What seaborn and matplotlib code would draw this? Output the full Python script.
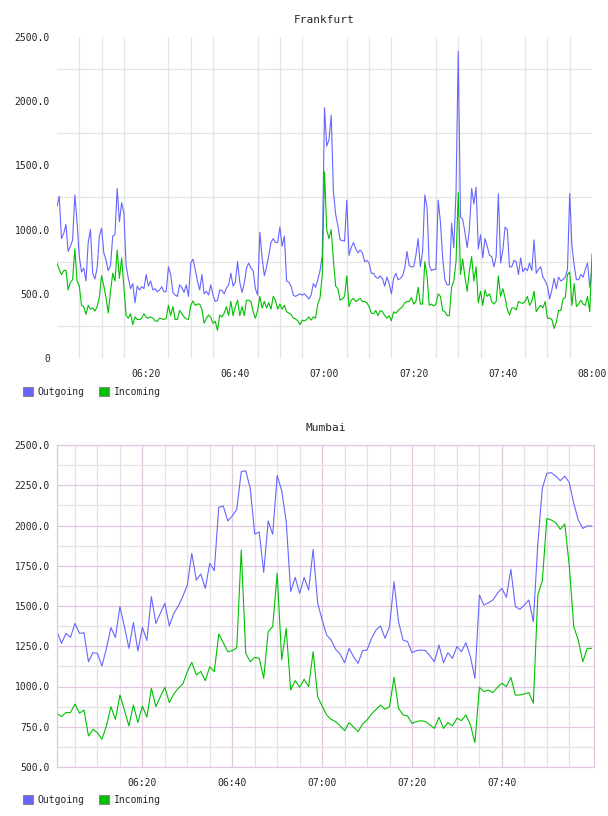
import pandas as pd
import matplotlib
matplotlib.use("Agg")
import matplotlib.pyplot as plt
import matplotlib.dates as mdates
from matplotlib.patches import Patch
from matplotlib.ticker import FixedLocator, FuncFormatter
import seaborn as sns

# Frankfurt: one sample every 30 s, 06:00 -> 08:00
fra_out = [
    1180, 1260, 930, 970, 1040, 830, 870, 920, 1270, 1060,
    790, 670, 700, 600, 900, 1000, 660, 615, 700, 950,
    1010, 820, 760, 680, 720, 950, 960, 1320, 1060, 1210,
    1130, 720, 620, 540, 580, 430, 560, 530, 555, 540,
    650, 560, 600, 530, 540, 515, 530, 555, 515, 520,
    710, 650, 510, 490, 480, 570, 550, 510, 570, 480,
    740, 770, 690, 600, 530, 650, 500, 520, 490, 570,
    490, 440, 450, 530, 525, 500, 545, 570, 660, 560,
    590, 750, 590, 510, 580, 700, 740, 700, 680, 540,
    490, 980, 780, 640, 710, 800, 900, 930, 900, 900,
    1020, 870, 950, 600, 590, 560, 490, 480, 490, 500,
    490, 500, 480, 460, 490, 580, 550, 610, 680, 800,
    1950, 1650, 1700, 1890, 1300, 1120, 1030, 920, 915, 910,
    1230, 800, 860, 900, 850, 820, 840, 820, 750, 760,
    740, 660, 660, 630, 620, 640, 620, 560, 630, 580,
    500, 620, 660, 610, 620, 640, 700, 830, 720, 710,
    710, 800, 930, 710, 830, 1270, 1170, 720, 680, 690,
    690, 1230, 1060, 780, 610, 570, 570, 1050, 860, 1290,
    2390, 1100, 1080, 980, 860, 1000, 1320, 1200, 1330, 850,
    960, 780, 930, 870, 800, 790, 710, 790, 1280, 740,
    840, 1020, 1000, 710, 710, 760, 750, 650, 780, 670,
    700, 680, 740, 680, 920, 660, 690, 710, 630, 600,
    560, 460, 530, 620, 540, 630, 600, 610, 630, 690,
    1280, 870, 720, 610, 610, 650, 630, 690, 740, 550, 700,
]
fra_in = [
    740, 690, 650, 680, 685, 530, 590, 610, 850, 600,
    560, 410, 400, 340, 410, 380, 390, 365, 400, 470,
    640, 560, 470, 350, 520, 660, 600, 840, 620, 780,
    560, 330, 310, 345, 260, 320, 300, 300, 310, 345,
    315, 310, 320, 310, 290, 285, 310, 305, 300, 310,
    410, 330, 400, 300, 300, 370, 345, 320, 305, 300,
    410, 445, 410, 420, 420, 380, 270, 310, 335, 315,
    270, 285, 215, 335, 320, 350, 400, 330, 440, 330,
    400, 450, 330, 400, 330, 450, 450, 440, 360, 310,
    370, 480, 390, 440, 390, 430, 380, 480, 450, 380,
    420, 380, 410, 360, 350, 340, 310, 305, 290, 260,
    295, 290, 300, 320, 295, 320, 310, 420, 470, 650,
    1450, 1000, 930, 1000, 760, 560, 540, 450, 460, 480,
    640, 400, 450, 465, 440, 450, 465, 440, 440, 430,
    400, 350, 345, 370, 330, 370, 360, 330, 310, 330,
    290, 360, 348, 370, 385, 400, 430, 440, 440, 470,
    420, 440, 550, 420, 420, 750, 640, 410, 420, 405,
    420, 500, 480, 370, 360, 330, 330, 550, 600, 750,
    1290, 650, 770, 630, 520, 680, 790, 600, 710, 430,
    520, 410, 530, 480, 500, 440, 420, 440, 640, 480,
    540, 470, 380, 335, 390, 390, 374, 440, 430, 425,
    440, 480, 410, 440, 520, 360, 390, 410, 390, 440,
    310, 310, 300, 230, 280, 370, 370, 460, 470, 650,
    670, 410, 580, 400, 420, 450, 420, 410, 480, 360, 810,
]

# Mumbai: one sample per minute, 06:01 -> 08:00
mum_out = [
    1341, 1268, 1330, 1305, 1392, 1330, 1334, 1154, 1210, 1206,
    1127, 1237, 1366, 1305, 1496, 1372, 1237, 1397, 1221, 1368,
    1285, 1558, 1392, 1455, 1517, 1376, 1455, 1500, 1560, 1630,
    1827, 1661, 1699, 1610, 1765, 1719, 2113, 2121, 2028, 2059,
    2100, 2334, 2340, 2231, 1947, 1959, 1709, 2028, 1945, 2311,
    2216, 2028, 1589, 1678, 1579, 1678, 1599, 1852, 1520, 1413,
    1320, 1289, 1231, 1202, 1148, 1237, 1185, 1144, 1223, 1227,
    1299, 1351, 1376, 1299, 1372, 1651, 1403, 1289, 1279, 1210,
    1223, 1227, 1223, 1190, 1154, 1258, 1148, 1210, 1175, 1248,
    1216, 1272, 1185, 1051, 1568, 1506, 1520, 1537, 1579, 1610,
    1554, 1728, 1496, 1479, 1506, 1537, 1403, 1889, 2231, 2324,
    2328, 2307, 2278, 2307, 2266, 2137, 2034, 1982, 1997, 1997,
]
mum_in = [
    834, 813, 838, 838, 891, 834, 854, 693, 734, 713,
    672, 755, 875, 796, 947, 854, 755, 885, 776, 879,
    809, 989, 875, 937, 995, 900, 954, 989, 1016, 1092,
    1150, 1072, 1094, 1036, 1123, 1092, 1326, 1272, 1216, 1223,
    1240, 1848, 1206, 1154, 1181, 1175, 1051, 1341, 1372, 1703,
    1165, 1361, 978, 1036, 995, 1045, 999, 1216, 937, 879,
    823, 796, 782, 755, 726, 776, 747, 720, 767, 792,
    829, 858, 885, 858, 875, 1057, 865, 823, 817, 771,
    782, 788, 782, 761, 740, 809, 740, 776, 755, 803,
    788, 823, 761, 651, 995, 968, 978, 962, 995, 1020,
    999, 1057, 947, 947, 954, 962, 896, 1568, 1657, 2044,
    2034, 2017, 1976, 2009, 1750, 1372, 1289, 1154, 1237, 1237,
]

fra_time = pd.date_range("2024-01-01 06:00", "2024-01-01 08:00", freq="30s")
mum_time = pd.date_range("2024-01-01 06:01", "2024-01-01 08:00", freq="1min")

BLUE = "#6666ff"
GREEN = "#00c000"
FONT = ["DejaVu Sans Mono"]
LW = 0.8

sns.set_style("white")
plt.rcParams["font.family"] = FONT
plt.rcParams["font.size"] = 7

fig = plt.figure(figsize=(6.08, 8.16), dpi=100)
ax1 = fig.add_axes([57 / 608, 1 - 358 / 816, 535 / 608, 321 / 816])
ax2 = fig.add_axes([57 / 608, 1 - 767 / 816, 537 / 608, 322 / 816])

fra = pd.DataFrame({"time": fra_time, "Outgoing": fra_out, "Incoming": fra_in})
mum = pd.DataFrame({"time": mum_time, "Outgoing": mum_out, "Incoming": mum_in})


def t(s):
    return mdates.date2num(pd.Timestamp("2024-01-01 " + s))


def fmt_y(v, pos):
    return "0" if v == 0 else f"{v:.1f}"


# ---- Frankfurt ----
ax = ax1
ax.set_axisbelow(True)
sns.lineplot(data=fra, x="time", y="Outgoing", color=BLUE, lw=LW, ax=ax)
sns.lineplot(data=fra, x="time", y="Incoming", color=GREEN, lw=LW, ax=ax)
ax.set_xlim(t("06:00"), t("08:00"))
ax.set_ylim(0, 2500)
ax.xaxis.set_major_locator(FixedLocator([t(s) for s in ["06:20", "06:40", "07:00", "07:20", "07:40", "08:00"]]))
ax.xaxis.set_major_formatter(mdates.DateFormatter("%H:%M"))
ax.xaxis.set_minor_locator(FixedLocator(mdates.date2num(pd.date_range("2024-01-01 06:05", "2024-01-01 08:00", freq="5min"))))
ax.yaxis.set_major_locator(FixedLocator([0, 500, 1000, 1500, 2000, 2500]))
ax.yaxis.set_major_formatter(FuncFormatter(fmt_y))
ax.yaxis.set_minor_locator(FixedLocator([250, 750, 1250, 1750, 2250]))
ax.grid(False)
ax.grid(True, which="minor", color="#e4e4e4", lw=0.9)
for sp in ax.spines.values():
    sp.set_visible(False)
ax.tick_params(which="both", length=0)
ax.tick_params(axis="x", pad=8)
ax.tick_params(axis="y", pad=5)
ax.set_xlabel("")
ax.set_ylabel("")
ax.set_title("Frankfurt", fontsize=8, pad=10)

# ---- Mumbai ----
MAJ = "#e0c8e0"
MIN = "#e4e0e4"
ax = ax2
ax.set_axisbelow(True)
sns.lineplot(data=mum, x="time", y="Outgoing", color=BLUE, lw=LW, ax=ax)
sns.lineplot(data=mum, x="time", y="Incoming", color=GREEN, lw=LW, ax=ax)
ax.set_xlim(t("06:01"), t("08:00:30"))
ax.set_ylim(500, 2500)
ax.xaxis.set_major_locator(FixedLocator([t(s) for s in ["06:20", "06:40", "07:00", "07:20", "07:40"]]))
ax.xaxis.set_major_formatter(mdates.DateFormatter("%H:%M"))
minor_x = [m for m in pd.date_range("2024-01-01 06:05", "2024-01-01 07:55", freq="5min") if m.minute % 20 != 0]
ax.xaxis.set_minor_locator(FixedLocator(mdates.date2num(minor_x)))
ax.yaxis.set_major_locator(FixedLocator(list(range(500, 2501, 250))))
ax.yaxis.set_major_formatter(FuncFormatter(lambda v, p: f"{v:.1f}"))
ax.yaxis.set_minor_locator(FixedLocator(list(range(625, 2500, 250))))
ax.grid(True, which="major", color=MAJ, lw=0.9)
ax.grid(True, which="minor", color=MIN, lw=0.9)
for sp in ax.spines.values():
    sp.set_color(MAJ)
    sp.set_linewidth(0.9)
ax.tick_params(which="both", length=0)
ax.tick_params(axis="x", pad=8)
ax.tick_params(axis="y", pad=5)
ax.set_xlabel("")
ax.set_ylabel("")
ax.set_title("Mumbai", fontsize=8, pad=10)

# legends below each panel
handles = [Patch(facecolor=BLUE, edgecolor="#888888", lw=0.8, label="Outgoing"),
           Patch(facecolor=GREEN, edgecolor="#888888", lw=0.8, label="Incoming")]
for ypix in (392, 800):
    fig.legend(handles=handles, loc="center left", bbox_to_anchor=(23 / 608, 1 - ypix / 816),
               ncol=2, frameon=False, fontsize=7, handlelength=1.0, handleheight=1.0,
               handletextpad=0.5, columnspacing=1.5, borderpad=0, borderaxespad=0)

fig.savefig("out.png", dpi=100)
